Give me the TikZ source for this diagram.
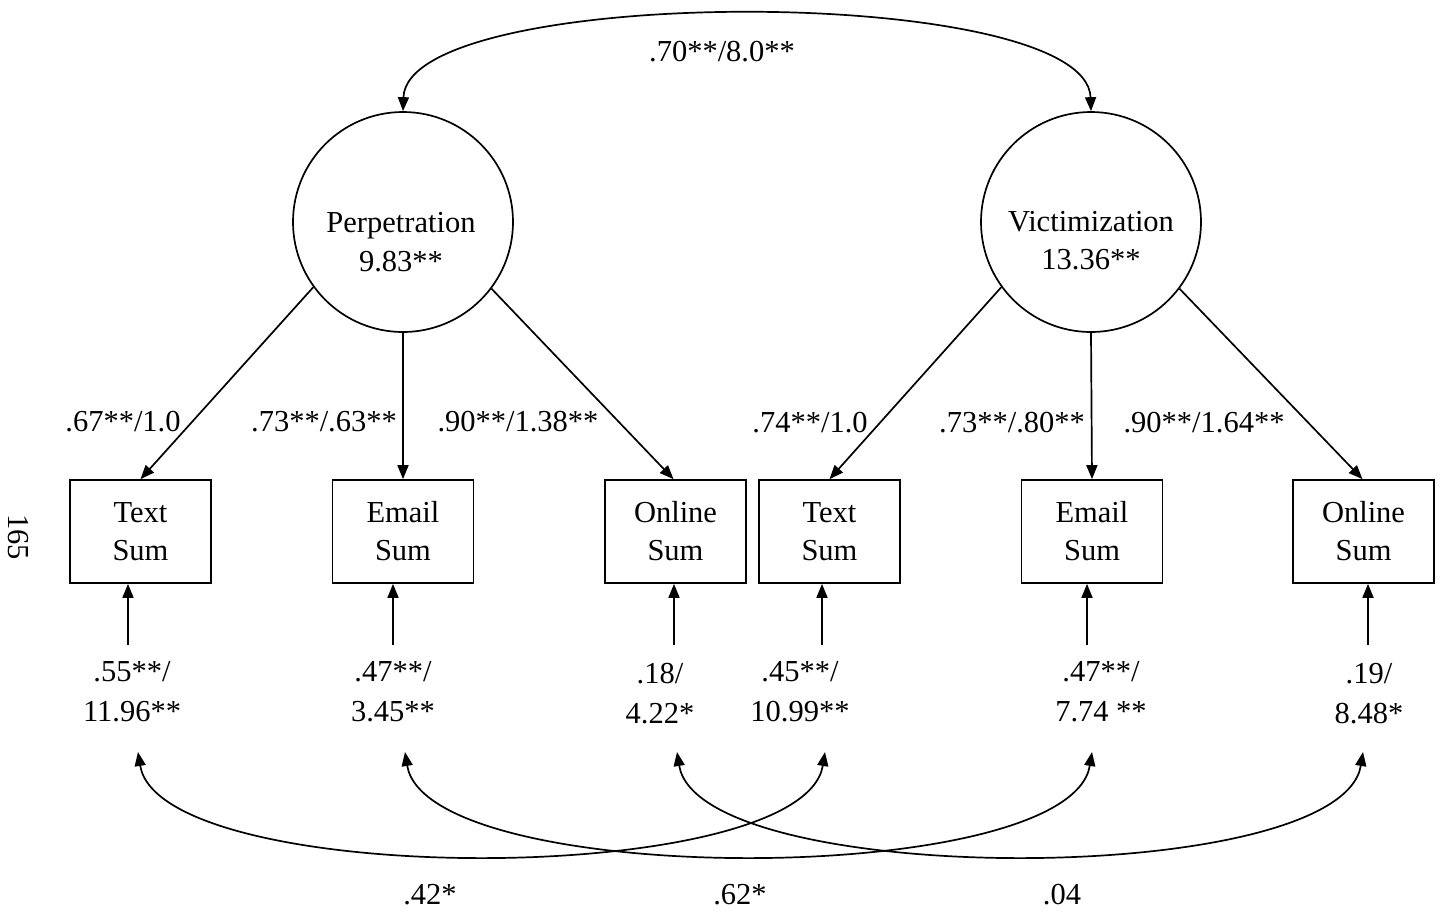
\documentclass[tikz,border=0pt]{standalone}
\usepackage{fontspec}
\setmainfont{Liberation Serif}
\usetikzlibrary{arrows.meta}

\begin{document}
\begin{tikzpicture}[x=1pt,y=-1pt,
  txt/.style={font=\fontsize{30.5}{38}\selectfont, inner sep=0pt, align=center},
  latent/.style={draw, circle, line width=1.7pt, minimum size=220pt, inner sep=0pt},
  manifest/.style={draw, rectangle, line width=1.7pt, minimum width=141pt, minimum height=103pt, inner sep=0pt,
                   font=\fontsize{30.5}{38}\selectfont, align=center},
  arr/.style={line width=1.7pt, -{Triangle[length=14pt,width=11pt]}},
  biarr/.style={line width=1.7pt, {Triangle[length=14pt,width=11pt]}-{Triangle[length=14pt,width=11pt]}}]

\useasboundingbox (0,0) rectangle (1441,914);

% page number
\node[txt, rotate=-90] (page) at (18,537) {165};

% latent factors
\node[latent] (P) at (403,222) {};
\node[latent] (V) at (1091,222) {};
\node[txt, font=\fontsize{30.5}{39}\selectfont] (Ptext) at (401,242) {Perpetration\\9.83**};
\node[txt, font=\fontsize{30.5}{38}\selectfont] (Vtext) at (1091,241) {Victimization\\13.36**};

% factor covariance
\draw[biarr] (P.north) .. controls +(4,-128) and +(-4,-128) .. (V.north);
\node[txt] (cov) at (722,52) {.70**/8.0**};

% indicators
\node[manifest] (t1) at (140.5,531.5) {Text\\Sum};
\node[manifest] (m1) at (403,531.5) {Email\\Sum};
\node[manifest] (o1) at (675.5,531.5) {Online\\Sum};
\node[manifest] (t2) at (829.5,531.5) {Text\\Sum};
\node[manifest] (m2) at (1092,531.5) {Email\\Sum};
\node[manifest] (o2) at (1363.5,531.5) {Online\\Sum};

% loadings
\draw[arr] (P.216.6) -- (t1.north);
\draw[arr] (P.south) -- (m1.north);
\draw[arr] (P.323.4) -- ([xshift=-2pt]o1.north);
\draw[arr] (V.216.6) -- (t2.north);
\draw[arr] (V.south) -- (m2.north);
\draw[arr] (V.323.4) -- ([xshift=-1pt]o2.north);

\node[txt] (l1) at (123,422) {.67**/1.0};
\node[txt] (l2) at (324,422) {.73**/.63**};
\node[txt] (l3) at (518,422) {.90**/1.38**};
\node[txt] (l4) at (810,423) {.74**/1.0};
\node[txt] (l5) at (1012,423) {.73**/.80**};
\node[txt] (l6) at (1204,423) {.90**/1.64**};

% residual arrows
\coordinate (e1) at (128,645);
\coordinate (e2) at (393,645);
\coordinate (e3) at (674,645);
\coordinate (e4) at (822,645);
\coordinate (e5) at (1087,645);
\coordinate (e6) at (1368,645);
\draw[arr] (e1) -- (e1 |- t1.south);
\draw[arr] (e2) -- (e2 |- m1.south);
\draw[arr] (e3) -- (e3 |- o1.south);
\draw[arr] (e4) -- (e4 |- t2.south);
\draw[arr] (e5) -- (e5 |- m2.south);
\draw[arr] (e6) -- (e6 |- o2.south);

% residual variances
\node[txt, font=\fontsize{30.5}{40}\selectfont] (r1) at (132,692) {.55**/\\11.96**};
\node[txt, font=\fontsize{30.5}{40}\selectfont] (r2) at (393,692) {.47**/\\3.45**};
\node[txt, font=\fontsize{30.5}{40}\selectfont] (r3) at (660,694) {.18/\\4.22*};
\node[txt, font=\fontsize{30.5}{40}\selectfont] (r4) at (800,692) {.45**/\\10.99**};
\node[txt, font=\fontsize{30.5}{40}\selectfont] (r5) at (1101,692) {.47**/\\7.74 **};
\node[txt, font=\fontsize{30.5}{40}\selectfont] (r6) at (1369,694) {.19/\\8.48*};

% residual covariances
\coordinate (c1) at (138,752);
\coordinate (c2) at (405,752);
\coordinate (c3) at (677,752);
\coordinate (c4) at (825,752);
\coordinate (c5) at (1092,752);
\coordinate (c6) at (1363,752);
\draw[biarr] (c1) .. controls +(22,137) and +(-22,137) .. (c4);
\draw[biarr] (c2) .. controls +(22,137) and +(-22,137) .. (c5);
\draw[biarr] (c3) .. controls +(22,137) and +(-22,137) .. (c6);

\node[txt] (k1) at (430,895) {.42*};
\node[txt] (k2) at (740,895) {.62*};
\node[txt] (k3) at (1062,895) {.04};

\end{tikzpicture}
\end{document}
